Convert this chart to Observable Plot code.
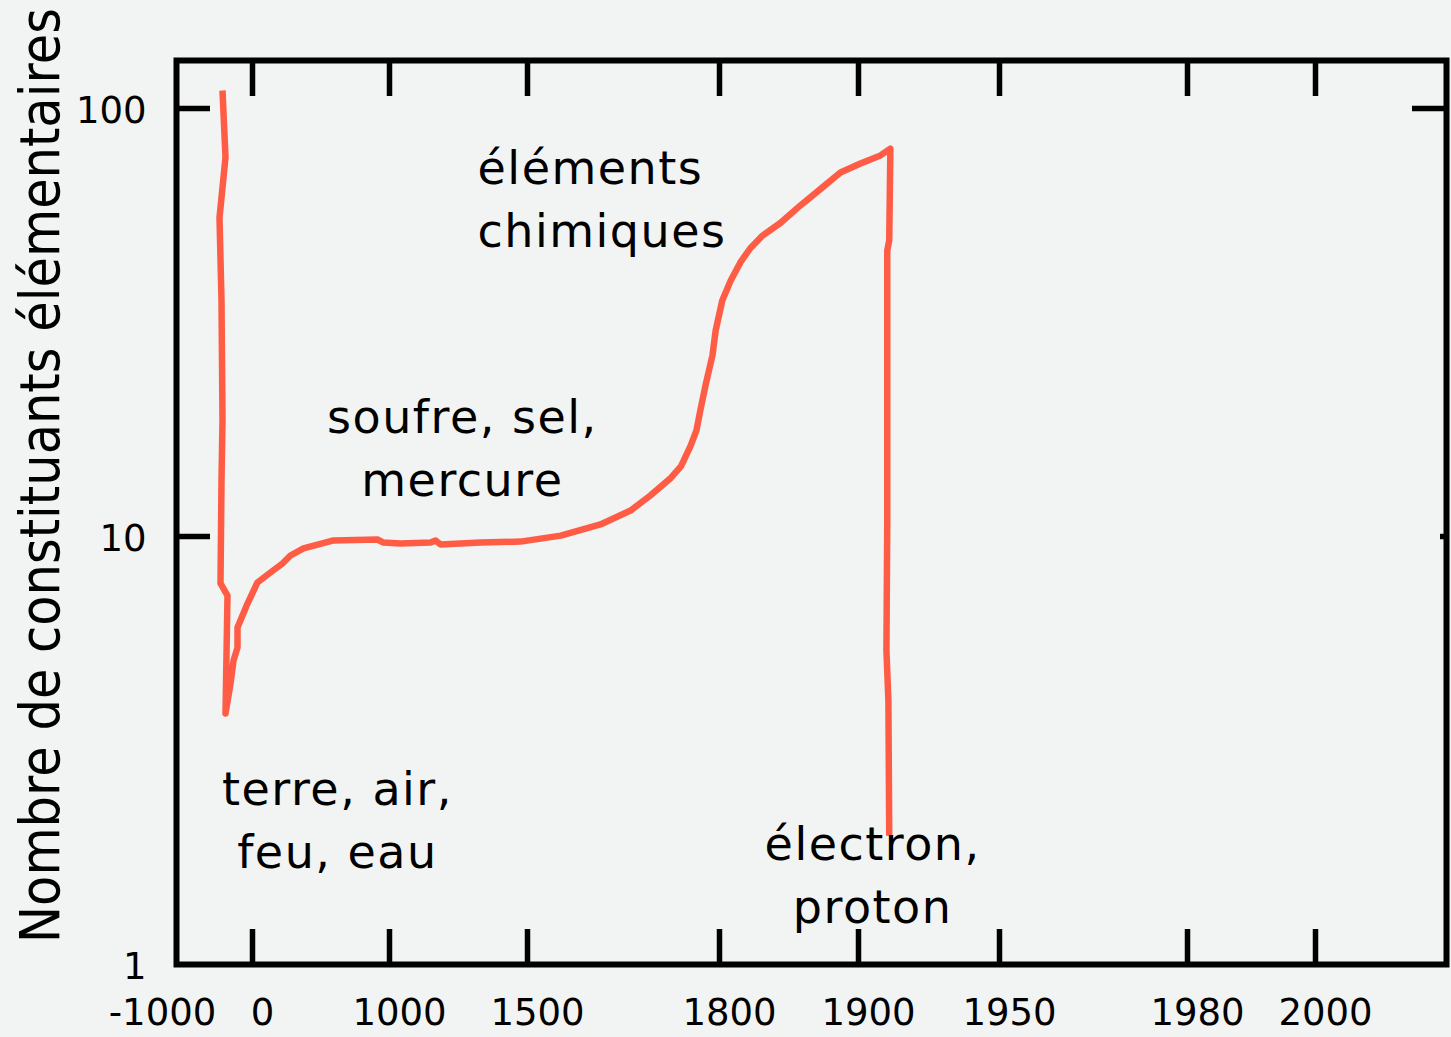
<!DOCTYPE html>
<html><head><meta charset="utf-8">
<script src="https://cdn.jsdelivr.net/npm/d3@7"></script>
<script src="https://cdn.jsdelivr.net/npm/@observablehq/plot@0.6"></script>
<style>
html,body{margin:0;padding:0;background:#f1f4f2;}
#chart svg{display:block;}
</style></head><body><div id="chart"></div>
<script>
// Curve: year vs number of elementary constituents
const years = [-300, -270, -330, -310, -300, -310, -320, -250, -270, -220, -190, -150, -150, -50, 36, 131, 219, 277, 372, 591, 912, 956, 1040, 1149, 1167, 1185, 1330, 1475, 1552, 1614, 1661, 1692, 1723, 1740, 1755, 1764, 1770, 1778, 1789, 1794, 1802, 1808, 1815, 1822, 1831, 1844, 1858, 1873, 1887, 1900.7, 1907.8, 1911.3, 1910.9, 1910.2, 1910.2, 1909.9, 1910.6, 1910.9];
const counts = [110.2, 76.9, 55.6, 35.6, 18.7, 13.5, 7.77, 7.28, 3.86, 4.53, 5.13, 5.50, 6.13, 6.97, 7.81, 8.24, 8.65, 9.03, 9.38, 9.79, 9.84, 9.68, 9.63, 9.68, 9.79, 9.58, 9.68, 9.73, 10.05, 10.67, 11.5, 12.47, 13.66, 14.6, 16.3, 17.7, 19.7, 22.5, 26.5, 30.3, 35.6, 39.6, 43.7, 47.1, 50.5, 54.1, 59.3, 65.0, 70.9, 74.4, 77.7, 80.6, 49.2, 46.6, 10.9, 5.42, 4.14, 2.0];

// Axis ticks (non-linear time axis)
const xTicks = [-1000, 0, 1000, 1500, 1800, 1900, 1950, 1980, 2000];
const xTickLabels = ["-1000", "0", "1000", "1500", "1800", "1900", "1950", "1980", "2000"];
const xTickMarks = [0, 1000, 1500, 1800, 1900, 1950, 1980, 2000];
const yTicks = [1, 10, 100];
const yTickLabels = ["1", "10", "100"];
const yTickMarks = [10, 100];

// Annotations
const annotTexts = ["éléments\nchimiques", "soufre, sel,\nmercure", "terre, air,\nfeu, eau", "électron,\nproton"];
const annotYears = [1319, 1264, 620, 1905];
const annotCounts = [61.0, 15.97, 2.16, 1.605];
const annotAnchors = ["start", "middle", "middle", "middle"];

const yTitle = "Nombre de constituants élémentaires";

const data = years.map((y, i) => ({year: y, n: counts[i]}));
const FONT = "'Comic Sans MS', 'DejaVu Sans', sans-serif";

const chart = Plot.plot({
  width: 1451,
  height: 1037,
  marginLeft: 176,
  marginRight: 5,
  marginTop: 60,
  marginBottom: 73,
  style: {background: "#f1f4f2", fontFamily: FONT, color: "black", overflow: "visible"},
  x: {type: "linear", domain: [-1000, 0, 1000, 1500, 1800, 1900, 1950, 1980, 2000, 2020],
      range: [152, 252, 389, 527, 719, 858, 999, 1187, 1315, 1443]},
  y: {type: "log", domain: [1, 129.5]},
  marks: [
    Plot.line(data, {x: "year", y: "n", stroke: "#ff5c46", strokeWidth: 6.5, strokeLinejoin: "round", strokeLinecap: "butt"}),
    Plot.frame({stroke: "black", strokeWidth: 6}),
    Plot.ruleX(xTickMarks, {x: d => d, insetTop: 869, stroke: "black", strokeWidth: 5.5}),
    Plot.ruleX(xTickMarks, {x: d => d, insetBottom: 868, stroke: "black", strokeWidth: 5.5}),
    Plot.ruleY(yTickMarks, {y: d => d, insetRight: 1236, stroke: "black", strokeWidth: 5.5}),
    Plot.ruleY([100], {y: d => d, insetLeft: 1236, stroke: "black", strokeWidth: 5.5}),
    Plot.ruleY([10], {y: d => d, insetLeft: 1264, stroke: "black", strokeWidth: 5.5}),
    Plot.axisX(xTicks, {tickSize: 0, tickPadding: 34, fontSize: 37, dx: 10, label: null,
      tickFormat: d => xTickLabels[xTicks.indexOf(d)]}),
    Plot.axisY(yTicks, {tickSize: 0, tickPadding: 30, fontSize: 37, dy: 3, label: null,
      tickFormat: d => yTickLabels[yTicks.indexOf(d)]}),
    ...annotTexts.map((t, i) => Plot.text([i], {
      x: () => annotYears[i], y: () => annotCounts[i], text: () => t,
      textAnchor: annotAnchors[i], lineAnchor: "middle", fontSize: 46, lineHeight: 1.37, dy: -5, fill: "black"
    })),
    Plot.text([yTitle], {text: d => d, frameAnchor: "left", textAnchor: "middle", rotate: -90,
      dx: -135, dy: -37, fontSize: 49.5, fill: "black"})
  ]
});
// typographic adjustments to approximate the reference's wide hand-lettered font
const svg = d3.select(chart);
svg.selectAll('g[aria-label="text"] text').each(function() {
  const el = d3.select(this);
  if (el.text() === yTitle) {
    const tr = el.attr("transform") || "";
    el.attr("transform", tr + " scale(1,1.12)");
  } else {
    el.style("letter-spacing", "1.5px");
  }
});
document.getElementById("chart").appendChild(chart);
</script></body></html>
